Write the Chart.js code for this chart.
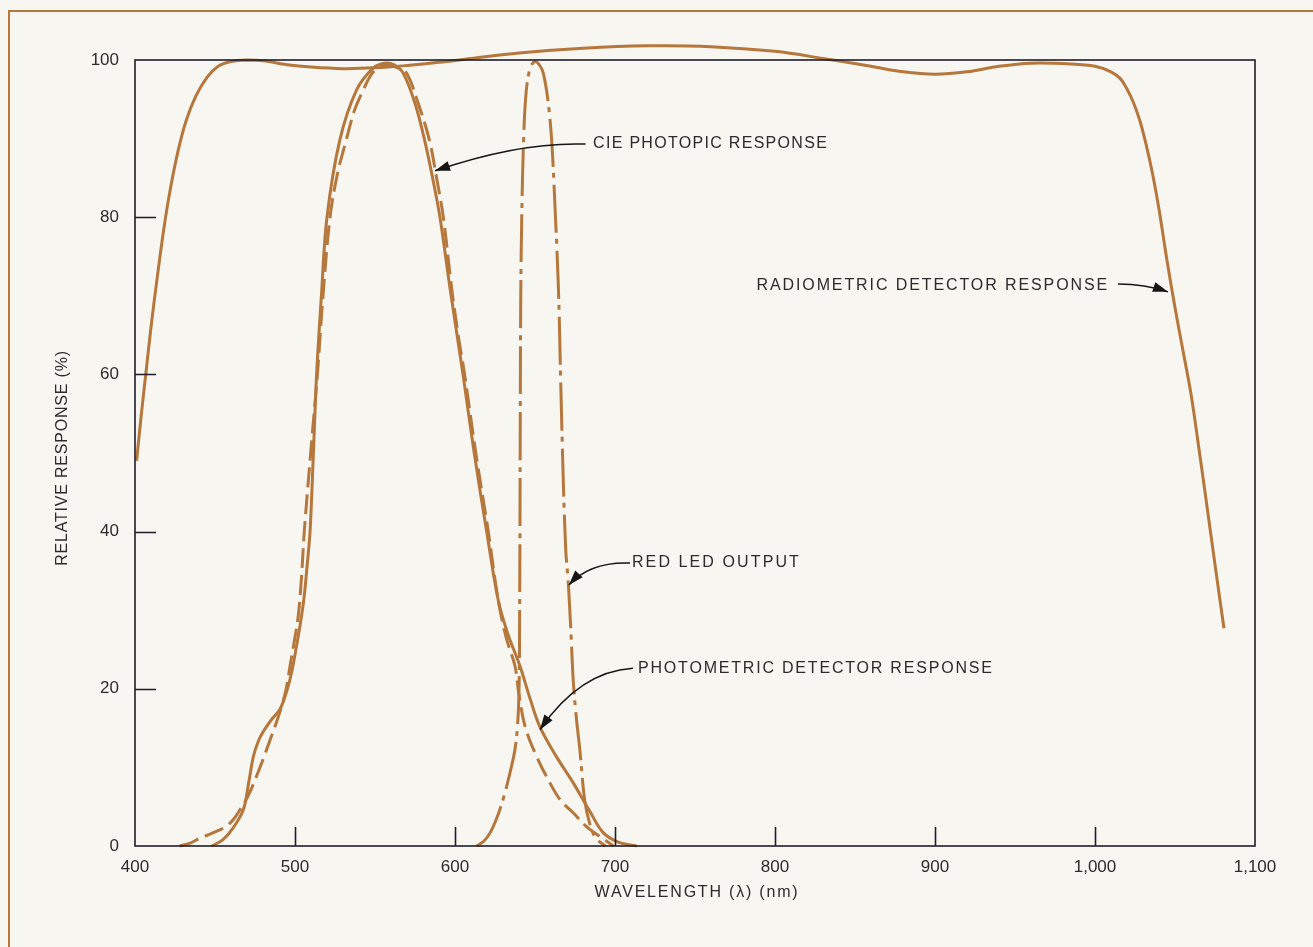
<!DOCTYPE html>
<html>
<head>
<meta charset="utf-8">
<title>Relative response vs wavelength</title>
<script src="https://cdn.jsdelivr.net/npm/chart.js@4.4.1/dist/chart.umd.min.js"></script>
<style>
	html, body { margin: 0; padding: 0; background: #f7f6f1; overflow: hidden; }
	.frame { position: absolute; left: 8px; top: 10px; width: 1400px; height: 1000px; border: 2px solid #b5773b; box-sizing: border-box; }
	.wrap { position: absolute; left: 0; top: 0; width: 1313px; height: 947px; }
</style>
</head>
<body>
<div class="frame"></div>
<div class="wrap"><canvas id="responseChart"></canvas></div>
<script>
(function() {
	'use strict';

	// Axis ticks
	const wavelengthTicks = [400, 500, 600, 700, 800, 900, 1000, 1100];
	const responseTicks = [0, 20, 40, 60, 80, 100];

	// Curves, [wavelength nm, relative response %]
	const radiometricResponse = [
		[401, 49], [404, 55], [407, 60.5], [410, 66], [414, 72.5], [418, 78.5], [422, 83.5],
		[427, 88.5], [432, 92.3], [438, 95.4], [445, 97.8], [452, 99.2], [460, 99.8], [470, 100],
		[480, 99.9], [495, 99.4], [510, 99.1], [530, 98.9], [550, 99], [570, 99.3], [590, 99.7],
		[610, 100.2], [640, 100.9], [680, 101.5], [720, 101.8], [760, 101.7], [800, 101.1],
		[830, 100.2], [860, 99.2], [880, 98.5], [900, 98.2], [920, 98.5], [940, 99.2], [960, 99.6],
		[985, 99.5], [1000, 99.2], [1010, 98.5], [1016, 97.6], [1020, 96.3], [1024, 94.6],
		[1028, 92.3], [1032, 89.2], [1036, 85.5], [1040, 81], [1045, 74.5], [1050, 68.5],
		[1055, 63], [1060, 57.5], [1065, 50.5], [1070, 43.2], [1075, 35.8], [1080.6, 27.7]
	];

	const photometricResponse = [
		[448, 0], [455, 0.8], [461, 2.2], [467.7, 4.6], [471, 8], [474, 11.4], [477, 13.3],
		[480, 14.5], [485, 16], [490.6, 17.4], [495, 19.8], [498, 22.2], [501, 25.5], [503.5, 28.5],
		[505.6, 31.5], [507.5, 35.5], [509.4, 40], [511.5, 50], [513.5, 60], [516.5, 70], [520, 80],
		[528, 89.8], [538.5, 96.2], [549, 99], [556, 99.6], [562, 99.4], [567.7, 98.3], [575, 94.5],
		[581, 89.8], [586, 85], [590.6, 80], [597, 70.8], [605, 60], [612, 50], [619.8, 40],
		[627, 31.3], [633, 27], [640.6, 22.9], [647, 18.7], [653, 15.2], [663, 11.5], [674, 8],
		[684, 4.5], [692.6, 1.7], [702, 0.5], [713.5, 0]
	];

	const ciePhotopic = [
		[428, 0], [435, 0.4], [440.6, 1], [448, 1.6], [457, 2.5], [462, 3.5], [465.6, 4.6],
		[471, 6.5], [476, 8.9], [480, 11], [484.4, 13.5], [488, 15.5], [491.7, 17.8], [494.5, 20],
		[496.9, 22.9], [499.5, 26], [502, 29.2], [504, 34], [505.8, 40], [509.8, 50], [514, 60],
		[517.5, 70], [521.9, 80], [526.5, 85.5], [532, 89.8], [537, 93.5], [542.7, 96.2],
		[549, 98.5], [557, 99.4], [564, 99], [569.8, 98.3], [577, 94.5], [584, 89.8], [588.5, 85],
		[592.7, 80], [598, 70.8], [602, 65], [606, 60], [613, 50], [620.8, 40], [627, 31.3],
		[632, 26.5], [637.5, 22.9], [639.8, 19.5], [643.8, 15.2], [651, 11.4], [659.4, 8],
		[666, 5.8], [674, 4.2], [682, 2.5], [690.6, 1.2], [699, 0]
	];

	const redLedOutput = [
		[613.5, 0], [618, 0.6], [622, 1.7], [626, 3.5], [630, 5.9], [634, 9], [637.5, 12.3],
		[639.3, 16], [640.1, 20.7], [640.4, 30], [640.6, 40], [640.8, 55], [641.1, 70],
		[641.8, 81], [642.9, 90], [644.5, 96], [647, 99], [650, 99.8], [653, 99.3], [655.2, 98.3],
		[658, 95], [660.4, 89.8], [662.5, 81.3], [664.6, 71.2], [666.2, 58], [667.6, 47],
		[669.2, 37.7], [670.8, 33.5], [672.5, 27], [674, 20.7], [676, 16], [678, 12.3],
		[681, 5.9], [684, 3], [688, 1], [694, 0]
	];

	const curveColor = '#b5773b';
	const inkColor = '#2b2b2e';
	const fontFamily = '"Liberation Sans", Arial, Helvetica, sans-serif';

	// Callouts: text anchor and a curved arrow (start, bend, tip), all in data units
	const callouts = [
		{ text: 'CIE PHOTOPIC RESPONSE', align: 'left', spacing: '1.3px', at: [686.3, 89.4],
			from: [681.6, 89.3], bend: [640.6, 89.6], tip: [587.5, 85.9] },
		{ text: 'RADIOMETRIC DETECTOR RESPONSE', align: 'right', spacing: '1.9px', at: [1008.8, 71.3],
			from: [1014.4, 71.5], bend: [1031.3, 71.5], tip: [1045.6, 70.5] },
		{ text: 'RED LED OUTPUT', align: 'left', spacing: '2.1px', at: [710.6, 36.0],
			from: [709.4, 36.0], bend: [684.4, 36.2], tip: [671.2, 33.2] },
		{ text: 'PHOTOMETRIC DETECTOR RESPONSE', align: 'left', spacing: '1.8px', at: [714.4, 22.6],
			from: [711.2, 22.6], bend: [678.1, 22.2], tip: [653.1, 14.8] }
	];

	const toPoints = rows => rows.map(r => ({ x: r[0], y: r[1] }));

	/**
	 * Plot box, inward tick marks, axis titles and callouts
	 */
	const decorPlugin = {
		id: 'decor',
		afterDraw: function(chart) {
			const ctx = chart.ctx;
			const area = chart.chartArea;
			const xs = chart.scales.x;
			const ys = chart.scales.y;

			ctx.save();

			// Plot box
			ctx.strokeStyle = '#1d1d2b';
			ctx.lineWidth = 1.6;
			ctx.strokeRect(area.left, area.top, area.right - area.left, area.bottom - area.top);

			// Inward ticks
			ctx.beginPath();
			wavelengthTicks.slice(1, -1).forEach(v => {
				const px = Math.round(xs.getPixelForValue(v)) + 0.5;
				ctx.moveTo(px, area.bottom);
				ctx.lineTo(px, area.bottom - 19);
			});
			responseTicks.slice(1, -1).forEach(v => {
				const py = Math.round(ys.getPixelForValue(v)) + 0.5;
				ctx.moveTo(area.left, py);
				ctx.lineTo(area.left + 21, py);
			});
			ctx.stroke();

			// Axis titles
			ctx.fillStyle = inkColor;
			ctx.font = '16px ' + fontFamily;
			ctx.textBaseline = 'middle';
			ctx.textAlign = 'center';
			ctx.letterSpacing = '1.8px';
			ctx.fillText('WAVELENGTH (λ) (nm)', 697, 893);

			ctx.save();
			ctx.translate(63, 458);
			ctx.rotate(-Math.PI / 2);
			ctx.letterSpacing = '0.8px';
			ctx.fillText('RELATIVE RESPONSE (%)', 0, 0);
			ctx.restore();

			// Callouts
			callouts.forEach(c => {
				const p = pt => [xs.getPixelForValue(pt[0]), ys.getPixelForValue(pt[1])];
				const at = p(c.at);
				const from = p(c.from);
				const bend = p(c.bend);
				const tip = p(c.tip);

				ctx.letterSpacing = c.spacing;
				ctx.textAlign = c.align;
				ctx.fillText(c.text, at[0], at[1]);

				ctx.strokeStyle = '#151515';
				ctx.lineWidth = 1.5;
				ctx.beginPath();
				ctx.moveTo(from[0], from[1]);
				ctx.quadraticCurveTo(bend[0], bend[1], tip[0], tip[1]);
				ctx.stroke();

				// Arrow head along the curve's end tangent
				const ang = Math.atan2(tip[1] - bend[1], tip[0] - bend[0]);
				const len = 15;
				const half = 5;
				ctx.beginPath();
				ctx.moveTo(tip[0], tip[1]);
				ctx.lineTo(tip[0] - len * Math.cos(ang) + half * Math.sin(ang),
					tip[1] - len * Math.sin(ang) - half * Math.cos(ang));
				ctx.lineTo(tip[0] - len * Math.cos(ang) - half * Math.sin(ang),
					tip[1] - len * Math.sin(ang) + half * Math.cos(ang));
				ctx.closePath();
				ctx.fillStyle = '#151515';
				ctx.fill();
				ctx.fillStyle = inkColor;
			});

			ctx.restore();
		}
	};

	const curve = (label, rows, dash) => ({
		label: label,
		data: toPoints(rows),
		borderColor: curveColor,
		borderWidth: 3,
		borderDash: dash,
		borderCapStyle: 'butt',
		pointRadius: 0,
		tension: 0.35,
		fill: false,
		clip: false
	});

	const ctx = document.getElementById('responseChart');

	new Chart(ctx, {
		type: 'line',
		data: {
			datasets: [
				curve('Radiometric detector response', radiometricResponse, []),
				curve('Photometric detector response', photometricResponse, []),
				curve('CIE photopic response', ciePhotopic, [20, 7]),
				curve('Red LED output', redLedOutput, [48, 6, 5, 7])
			]
		},
		options: {
			responsive: true,
			maintainAspectRatio: false,
			animation: false,
			events: [],
			layout: {
				padding: { top: 60, right: 58, left: 0, bottom: 0 }
			},
			plugins: {
				legend: { display: false },
				tooltip: { enabled: false }
			},
			scales: {
				x: {
					type: 'linear',
					min: 400,
					max: 1100,
					afterBuildTicks: scale => { scale.ticks = wavelengthTicks.map(v => ({ value: v })); },
					afterFit: scale => { scale.height = 101; },
					grid: { display: false, drawTicks: false },
					border: { display: false },
					ticks: {
						autoSkip: false,
						maxRotation: 0,
						padding: 11,
						color: inkColor,
						font: { family: fontFamily, size: 17 },
						callback: v => v.toLocaleString('en-US')
					}
				},
				y: {
					min: 0,
					max: 100,
					afterBuildTicks: scale => { scale.ticks = responseTicks.map(v => ({ value: v })); },
					afterFit: scale => { scale.width = 135; },
					grid: { display: false, drawTicks: false },
					border: { display: false },
					ticks: {
						padding: 16,
						color: inkColor,
						font: { family: fontFamily, size: 17 }
					}
				}
			}
		},
		plugins: [decorPlugin]
	});
})();
</script>
</body>
</html>
